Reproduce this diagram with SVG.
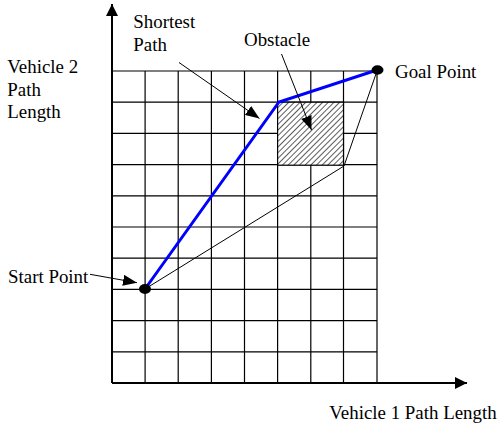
<svg xmlns="http://www.w3.org/2000/svg" width="503" height="425" viewBox="0 0 503 425">
<defs>
<pattern id="hatch" patternUnits="userSpaceOnUse" width="4" height="4" patternTransform="rotate(45)">
<rect width="4" height="4" fill="#ffffff"/>
<line x1="0" y1="0" x2="0" y2="4" stroke="#333" stroke-width="1.6"/>
</pattern>
<marker id="arr" viewBox="0 0 12 12" refX="12" refY="6" markerWidth="14" markerHeight="11" markerUnits="userSpaceOnUse" orient="auto" preserveAspectRatio="none">
<path d="M0,0 L12,6 L0,12 Z" fill="#000"/>
</marker>
<marker id="ax" viewBox="0 0 12 12" refX="12" refY="6" markerWidth="12" markerHeight="12" markerUnits="userSpaceOnUse" orient="auto">
<path d="M0,0 L12,6 L0,12 Z" fill="#000"/>
</marker>
</defs>
<style>
text{font-family:"Liberation Serif","Times New Roman",serif;font-size:18.9px;fill:#000}
.g{stroke:#000;stroke-width:1.2;fill:none}
.ln{stroke:#000;stroke-width:1;fill:none}
</style>
<rect width="503" height="425" fill="#fff"/>
<g id="grid" class="g">
<path d="M145.1,71V383M178.2,71V383M211.4,71V383M244.5,71V383M277.6,71V383M310.8,71V383M343.5,71V383M377,71V383"/>
<path d="M112,71H377M112,102.2H377M112,133.4H377M112,164.6H377M112,195.8H377M112,227H377M112,258.2H377M112,289.4H377M112,320.6H377M112,351.8H377"/>
</g>
<g id="obstacle">
<rect x="277.6" y="102.2" width="65.9" height="63" fill="url(#hatch)" stroke="#000" stroke-width="1.2"/>
</g>
<g id="axes">
<line x1="112" y1="383" x2="112" y2="4" stroke="#000" stroke-width="2" marker-end="url(#ax)"/>
<line x1="112" y1="383" x2="467" y2="383" stroke="#000" stroke-width="2" marker-end="url(#ax)"/>
</g>
<g id="connectors">
<polyline points="145,289 344,166 377,71" class="ln"/>
<polyline points="145,289 279,102 377,70" fill="none" stroke="#0000ff" stroke-width="3"/>
<line x1="179" y1="62.5" x2="259.5" y2="118.5" class="ln" marker-end="url(#arr)"/>
<line x1="281.5" y1="54" x2="311.5" y2="130" class="ln" marker-end="url(#arr)"/>
<line x1="90" y1="274.3" x2="137" y2="282.7" class="ln" marker-end="url(#arr)"/>
</g>
<g id="start">
<ellipse cx="145" cy="289" rx="6" ry="5" fill="#000"/>
<text x="8" y="282.5">Start Point</text>
</g>
<g id="goal">
<ellipse cx="377.5" cy="70" rx="6" ry="4.7" fill="#000"/>
<text x="395" y="77.5">Goal Point</text>
</g>
<g id="labels">
<text x="133.3" y="27.7">Shortest</text>
<text x="133.3" y="50.7">Path</text>
<text x="244" y="45.7">Obstacle</text>
<text x="7.3" y="72.7">Vehicle 2</text>
<text x="7.3" y="95.7">Path</text>
<text x="7.3" y="118.3">Length</text>
<text x="329.3" y="419">Vehicle 1 Path Length</text>
</g>
</svg>
